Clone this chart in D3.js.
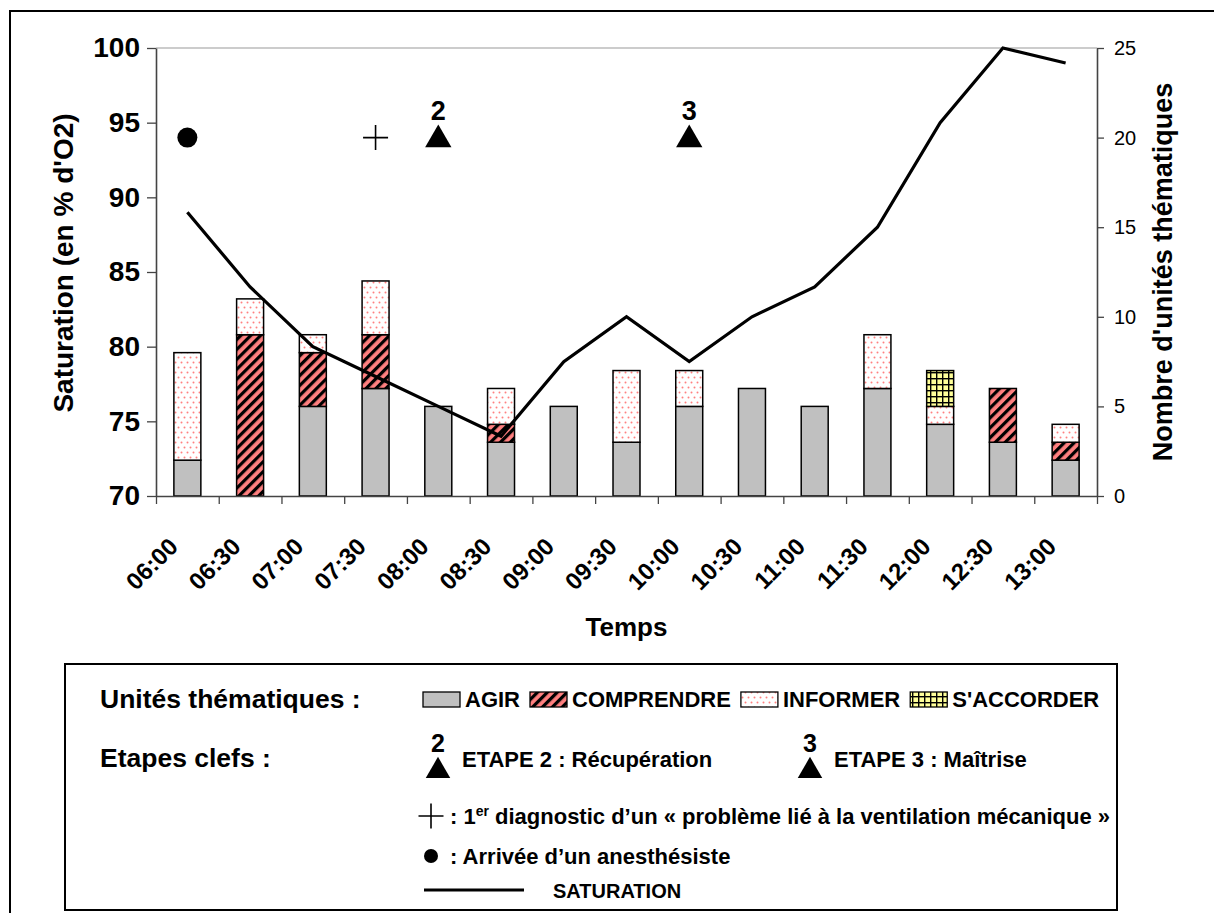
<!DOCTYPE html>
<html>
<head>
<meta charset="utf-8">
<script src="https://cdn.jsdelivr.net/npm/d3@7"></script>
<style>
  body { margin: 0; background: #fff; }
  svg { display: block; font-family: 'Liberation Sans', Arial, sans-serif; }
</style>
</head>
<body>
<svg id="chart" width="1214" height="913"></svg>
<script>
// data
const times = ['06:00', '06:30', '07:00', '07:30', '08:00', '08:30', '09:00', '09:30',
  '10:00', '10:30', '11:00', '11:30', '12:00', '12:30', '13:00'];
const agir = [2, 0, 5, 6, 5, 3, 5, 3, 5, 6, 5, 6, 4, 3, 2];
const comprendre = [0, 9, 3, 3, 0, 1, 0, 0, 0, 0, 0, 0, 0, 3, 1];
const informer = [6, 2, 1, 3, 0, 2, 0, 4, 2, 0, 0, 3, 1, 0, 1];
const saccorder = [0, 0, 0, 0, 0, 0, 0, 0, 0, 0, 0, 0, 2, 0, 0];
const saturation = [89, 84, 80, 78, 76, 74, 79, 82, 79, 82, 84, 88, 95, 100, 99];
const satTicks = [70, 75, 80, 85, 90, 95, 100];
const countTicks = [0, 5, 10, 15, 20, 25];
const events = [
  { time: '06:00', value: 94, type: 'circle' },
  { time: '07:30', value: 94, type: 'plus' },
  { time: '08:00', value: 94, type: 'triangle', label: '2' },
  { time: '10:00', value: 94, type: 'triangle', label: '3' },
];
const keys = ['agir', 'comprendre', 'informer', 'saccorder'];
const keyLabels = { agir: 'AGIR', comprendre: 'COMPRENDRE', informer: 'INFORMER', saccorder: "S'ACCORDER" };

const svg = d3.select('#chart');
const plot = { left: 156, right: 1097, top: 48, bottom: 496 };

const x = d3.scaleBand().domain(times).range([plot.left, plot.right]);
const xEdge = d3.scaleLinear().domain([0, times.length]).range([plot.left, plot.right]);
const yL = d3.scaleLinear().domain([70, 100]).range([plot.bottom, plot.top]);
const yR = d3.scaleLinear().domain([0, 25]).range([plot.bottom, plot.top]);

// patterns
const defs = svg.append('defs');
const pComp = defs.append('pattern')
  .attr('id', 'p-comprendre')
  .attr('patternUnits', 'userSpaceOnUse')
  .attr('width', 7).attr('height', 7)
  .attr('patternTransform', 'rotate(45)');
pComp.append('rect').attr('width', 7).attr('height', 7).attr('fill', '#ff8080');
pComp.append('rect').attr('width', 3.2).attr('height', 7).attr('fill', '#000');

const pInf = defs.append('pattern')
  .attr('id', 'p-informer')
  .attr('patternUnits', 'userSpaceOnUse')
  .attr('width', 6).attr('height', 10);
pInf.append('rect').attr('width', 6).attr('height', 10).attr('fill', '#fff');
pInf.append('circle').attr('cx', 1.5).attr('cy', 2.5).attr('r', 1).attr('fill', '#ff8080');
pInf.append('circle').attr('cx', 4.5).attr('cy', 7.5).attr('r', 1).attr('fill', '#ff8080');

const pAcc = defs.append('pattern')
  .attr('id', 'p-saccorder')
  .attr('patternUnits', 'userSpaceOnUse')
  .attr('width', 6).attr('height', 6);
pAcc.append('rect').attr('width', 6).attr('height', 6).attr('fill', '#ffff99');
pAcc.append('rect').attr('x', 0).attr('width', 1.4).attr('height', 6).attr('fill', '#000');
pAcc.append('rect').attr('y', 0).attr('width', 6).attr('height', 1.4).attr('fill', '#000');

const fills = {
  agir: '#c0c0c0',
  comprendre: 'url(#p-comprendre)',
  informer: 'url(#p-informer)',
  saccorder: 'url(#p-saccorder)',
};

// outer frame (only left and top are inside the picture)
svg.append('path')
  .attr('d', 'M10,913 V11 H1214')
  .attr('fill', 'none').attr('stroke', '#000').attr('stroke-width', 2);

// plot top border
svg.append('line')
  .attr('x1', plot.left).attr('x2', plot.right)
  .attr('y1', plot.top).attr('y2', plot.top)
  .attr('stroke', '#999').attr('stroke-width', 1.2);

// stacked bars
const table = times.map((t, i) => ({
  time: t, agir: agir[i], comprendre: comprendre[i], informer: informer[i], saccorder: saccorder[i],
}));
const series = d3.stack().keys(keys)(table);
const barW = x.bandwidth() * 0.43;

svg.append('g').selectAll('g')
  .data(series)
  .join('g')
  .attr('fill', d => fills[d.key])
  .selectAll('rect')
  .data(d => d.filter(s => s[1] > s[0]))
  .join('rect')
  .attr('x', d => x(d.data.time) + (x.bandwidth() - barW) / 2)
  .attr('y', d => yR(d[1]))
  .attr('width', barW)
  .attr('height', d => yR(d[0]) - yR(d[1]))
  .attr('stroke', '#000')
  .attr('stroke-width', 1.5);

// axes
const axisL = svg.append('g')
  .attr('transform', `translate(${plot.left},0)`)
  .call(d3.axisLeft(yL).tickValues(satTicks).tickSize(9).tickSizeOuter(0).tickPadding(7));
axisL.selectAll('text')
  .style('font-size', '28px').style('font-weight', 'bold').attr('fill', '#000');

const axisR = svg.append('g')
  .attr('transform', `translate(${plot.right},0)`)
  .call(d3.axisRight(yR).tickValues(countTicks).tickSize(7).tickSizeOuter(0).tickPadding(10));
axisR.selectAll('text')
  .style('font-size', '20px').attr('fill', '#000');

const axisB = svg.append('g')
  .attr('transform', `translate(0,${plot.bottom})`)
  .call(d3.axisBottom(xEdge).tickValues(d3.range(times.length + 1)).tickFormat('').tickSize(8).tickSizeOuter(0));

[axisL, axisR, axisB].forEach(a => {
  a.select('.domain').attr('stroke', '#444').attr('stroke-width', 1.6);
  a.selectAll('.tick line').attr('stroke', '#444').attr('stroke-width', 1.3);
});

svg.append('g').selectAll('text')
  .data(times)
  .join('text')
  .attr('transform', d => `translate(${x(d) + x.bandwidth() / 2 - 8},${plot.bottom + 52}) rotate(-45)`)
  .attr('text-anchor', 'end')
  .style('font-size', '24px').style('font-weight', 'bold')
  .text(d => d);

// axis titles
svg.append('text')
  .attr('transform', `translate(73,${(plot.top + plot.bottom) / 2 - 9}) rotate(-90)`)
  .attr('text-anchor', 'middle')
  .style('font-size', '28px').style('font-weight', 'bold')
  .text("Saturation (en % d'O2)");

svg.append('text')
  .attr('transform', `translate(1172,${(plot.top + plot.bottom) / 2}) rotate(-90)`)
  .attr('text-anchor', 'middle')
  .style('font-size', '27px').style('font-weight', 'bold')
  .text("Nombre d'unités thématiques");

svg.append('text')
  .attr('x', (plot.left + plot.right) / 2).attr('y', 636)
  .attr('text-anchor', 'middle')
  .style('font-size', '26px').style('font-weight', 'bold')
  .text('Temps');

// saturation line
const line = d3.line()
  .x((d, i) => x(times[i]) + x.bandwidth() / 2)
  .y(d => yL(d));
svg.append('path')
  .datum(saturation)
  .attr('d', line)
  .attr('fill', 'none').attr('stroke', '#000').attr('stroke-width', 3.2)
  .attr('stroke-linejoin', 'miter');

// event markers
function drawMarker(g, type, cx, cy) {
  if (type === 'circle') {
    g.append('circle').attr('cx', cx).attr('cy', cy).attr('r', 10).attr('fill', '#000');
  } else if (type === 'plus') {
    g.append('path')
      .attr('d', `M${cx - 12.5},${cy} H${cx + 12.5} M${cx},${cy - 12.5} V${cy + 12.5}`)
      .attr('stroke', '#000').attr('stroke-width', 1.6);
  } else {
    g.append('path')
      .attr('d', d3.symbol(d3.symbolTriangle, 300)())
      .attr('transform', `translate(${cx},${cy + 2})`)
      .attr('fill', '#000');
  }
}
const markers = svg.append('g');
events.forEach(e => {
  const cx = x(e.time) + x.bandwidth() / 2;
  const cy = yL(e.value);
  drawMarker(markers, e.type, cx, cy);
  if (e.label) {
    markers.append('text')
      .attr('x', cx).attr('y', cy - 18)
      .attr('text-anchor', 'middle')
      .style('font-size', '27px').style('font-weight', 'bold')
      .text(e.label);
  }
});

// legend box
const lg = svg.append('g');
lg.append('rect')
  .attr('x', 65).attr('y', 664).attr('width', 1052).attr('height', 246)
  .attr('fill', '#fff').attr('stroke', '#000').attr('stroke-width', 2);

lg.append('text').attr('x', 100).attr('y', 708)
  .style('font-size', '26.5px').style('font-weight', 'bold')
  .text('Unités thématiques :');
lg.append('text').attr('x', 100).attr('y', 767)
  .style('font-size', '26.5px').style('font-weight', 'bold')
  .text('Etapes clefs :');

// legend: series
let lx = 423;
keys.forEach(k => {
  lg.append('rect')
    .attr('x', lx).attr('y', 692).attr('width', 37).attr('height', 15)
    .attr('fill', fills[k]).attr('stroke', '#000').attr('stroke-width', 1.3);
  const t = lg.append('text')
    .attr('x', lx + 42).attr('y', 707)
    .style('font-size', '22px').style('font-weight', 'bold')
    .text(keyLabels[k]);
  lx += 42 + t.node().getComputedTextLength() + 10;
});

// legend: stages
const stages = [
  { label: '2', text: 'ETAPE 2 : Récupération', x: 438 },
  { label: '3', text: 'ETAPE 3 : Maîtrise', x: 810 },
];
stages.forEach(s => {
  lg.append('text')
    .attr('x', s.x).attr('y', 752)
    .attr('text-anchor', 'middle')
    .style('font-size', '25px').style('font-weight', 'bold')
    .text(s.label);
  lg.append('path')
    .attr('d', d3.symbol(d3.symbolTriangle, 260)())
    .attr('transform', `translate(${s.x},771)`)
    .attr('fill', '#000');
  lg.append('text')
    .attr('x', s.x + 24).attr('y', 767)
    .style('font-size', '22px').style('font-weight', 'bold')
    .text(s.text);
});

// legend: other symbols
drawMarker(lg, 'plus', 431, 816);
const diag = lg.append('text')
  .attr('x', 450).attr('y', 824)
  .style('font-size', '22px').style('font-weight', 'bold');
diag.append('tspan').text(': 1');
diag.append('tspan').attr('dy', -8).style('font-size', '14px').text('er');
diag.append('tspan').attr('dy', 8).text(' diagnostic d’un « problème lié à la ventilation mécanique »');

lg.append('circle').attr('cx', 431).attr('cy', 856).attr('r', 7).attr('fill', '#000');
lg.append('text')
  .attr('x', 450).attr('y', 864)
  .style('font-size', '22px').style('font-weight', 'bold')
  .text(': Arrivée d’un anesthésiste');

lg.append('line')
  .attr('x1', 424).attr('x2', 524).attr('y1', 890).attr('y2', 890)
  .attr('stroke', '#000').attr('stroke-width', 3);
lg.append('text')
  .attr('x', 553).attr('y', 898)
  .style('font-size', '20px').style('font-weight', 'bold')
  .text('SATURATION');
</script>
</body>
</html>
